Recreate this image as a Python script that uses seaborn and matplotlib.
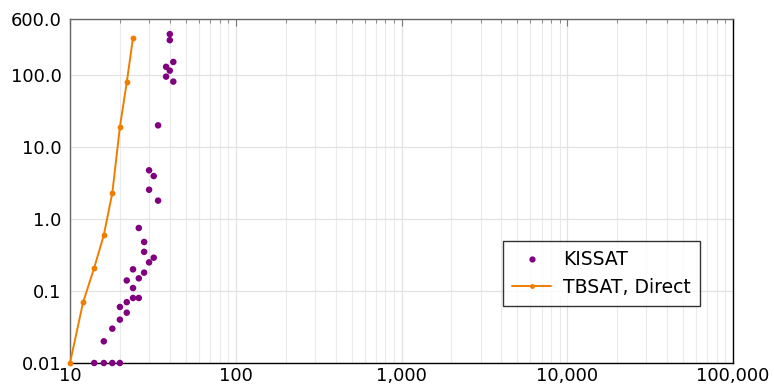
import matplotlib
matplotlib.use("Agg")
import matplotlib.pyplot as plt
import seaborn as sns
import pandas as pd
from matplotlib.ticker import FixedLocator, FixedFormatter, NullFormatter
from matplotlib.lines import Line2D

kissat_x = [14, 16, 18, 20, 16, 18, 20, 20, 22, 22, 22, 24, 24, 24, 26, 26, 26,
            28, 28, 28, 30, 30, 30, 32, 32, 34, 34, 38, 38, 40, 40, 40, 42, 42]
kissat_y = [0.01, 0.01, 0.01, 0.01, 0.02, 0.03, 0.04, 0.06, 0.05, 0.07, 0.14,
            0.08, 0.11, 0.2, 0.08, 0.15, 0.75, 0.18, 0.35, 0.48, 0.25, 2.55, 4.75,
            0.29, 3.95, 1.8, 20, 130, 95, 115, 370, 305, 152, 81]

tbsat_x = [10, 12, 14, 16, 18, 20, 22, 24]
tbsat_y = [0.01, 0.07, 0.21, 0.6, 2.3, 19, 79, 330]

x_ticks = [10, 100, 1000, 10000, 100000]
x_labels = ["10", "100", "1,000", "10,000", "100,000"]
y_ticks = [0.01, 0.1, 1, 10, 100, 600]
y_labels = ["0.01", "0.1", "1.0", "10.0", "100.0", "600.0"]

purple = "#800080"
orange = "#f07d00"

sns.set_style("white")
plt.rcParams["font.family"] = ["DejaVu Sans"]
plt.rcParams["text.color"] = "black"

fig = plt.figure(figsize=(7.74, 3.9), dpi=100)
ax = fig.add_axes([70 / 774, 27 / 390, 663 / 774, 344 / 390])

df_k = pd.DataFrame({"x": kissat_x, "y": kissat_y})
df_t = pd.DataFrame({"x": tbsat_x, "y": tbsat_y})

sns.scatterplot(data=df_k, x="x", y="y", ax=ax, color=purple, s=22,
                edgecolor="none", clip_on=False, zorder=4, legend=False)
sns.lineplot(data=df_t, x="x", y="y", ax=ax, color=orange, lw=1.4,
             marker="o", markersize=4.2, markeredgewidth=0, clip_on=False,
             zorder=5, legend=False, sort=False)

ax.set_xscale("log")
ax.set_yscale("log")
ax.set_xlim(10, 100000)
ax.set_ylim(0.01, 600)

ax.xaxis.set_major_locator(FixedLocator(x_ticks))
ax.xaxis.set_major_formatter(FixedFormatter(x_labels))
minors = [m * 10 ** e for e in range(1, 5) for m in range(2, 10)]
ax.xaxis.set_minor_locator(FixedLocator(minors))
ax.xaxis.set_minor_formatter(NullFormatter())

ax.yaxis.set_major_locator(FixedLocator(y_ticks))
ax.yaxis.set_major_formatter(FixedFormatter(y_labels))
ax.yaxis.set_minor_locator(FixedLocator([]))

ax.grid(which="major", color="#e3e3e3", lw=0.9)
ax.grid(which="minor", axis="x", color="#eaeaea", lw=0.8)
ax.set_axisbelow(True)

ax.tick_params(axis="both", which="both", direction="in", labelsize=13,
               top=True, right=False, colors="#777777", labelcolor="black")
ax.tick_params(axis="x", which="major", length=5, pad=3)
ax.tick_params(axis="x", which="minor", length=3)
ax.tick_params(axis="y", which="major", length=5, pad=6)

ax.set_xlabel("")
ax.set_ylabel("")

for side, col in [("left", "#666666"), ("top", "#666666"),
                  ("right", "black"), ("bottom", "black")]:
    ax.spines[side].set_visible(True)
    ax.spines[side].set_color(col)
    ax.spines[side].set_linewidth(1.0)

handles = [
    Line2D([], [], color=purple, marker="o", ls="none", markersize=4.5,
           markeredgewidth=0),
    Line2D([], [], color=orange, marker="o", lw=1.4, markersize=3.5,
           markeredgewidth=0),
]
leg = ax.legend(handles, ["KISSAT", "TBSAT, Direct"], loc="lower right",
                bbox_to_anchor=(0.95, 0.166), borderaxespad=0, fontsize=13.5,
                frameon=True, fancybox=False, handlelength=2.1,
                borderpad=0.5, labelspacing=0.45, handletextpad=0.6)
leg.get_frame().set_edgecolor("black")
leg.get_frame().set_linewidth(1.0)
for t in leg.get_texts():
    t.set_color("black")

fig.savefig("out.png", dpi=100)
